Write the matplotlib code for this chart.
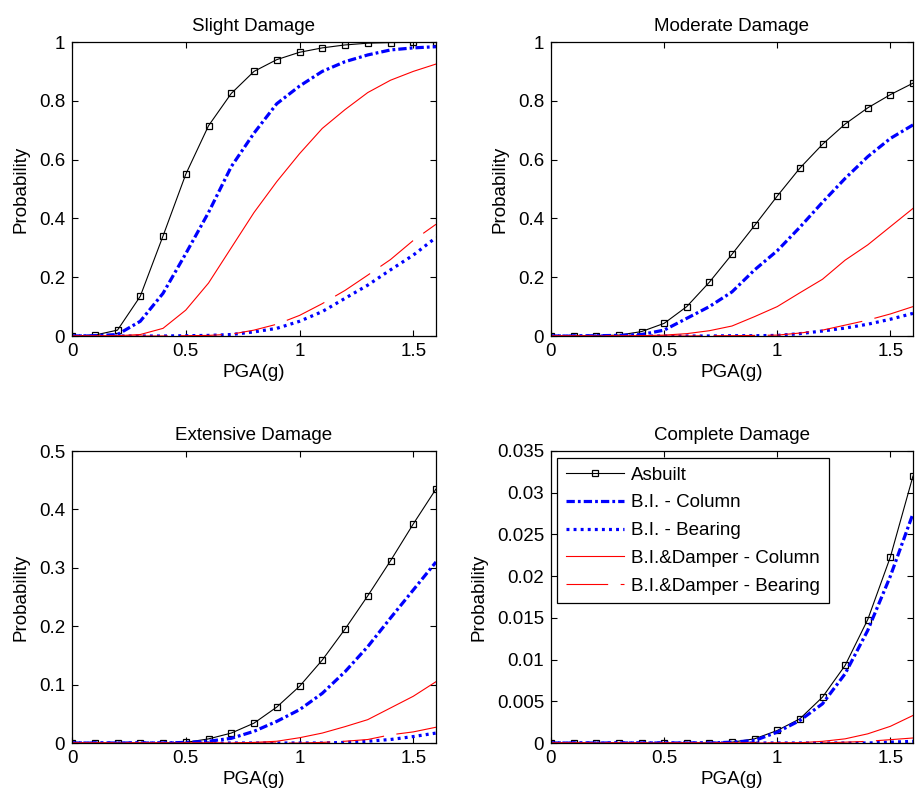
import matplotlib
matplotlib.use('Agg')
import matplotlib.pyplot as plt
import numpy as np
from matplotlib.ticker import FuncFormatter

plt.rcParams['font.family'] = ['Liberation Sans', 'DejaVu Sans']
plt.rcParams['lines.scale_dashes'] = False
fs = 13.5

pga = [0, 0.1, 0.2, 0.3, 0.4, 0.5, 0.6, 0.7, 0.8, 0.9, 1.0, 1.1, 1.2, 1.3, 1.4, 1.5, 1.6]

labels = ['Asbuilt', 'B.I. - Column', 'B.I. - Bearing',
          'B.I.&Damper - Column', 'B.I.&Damper - Bearing']

# Slight damage
slight_asbuilt  = [0, 0.003, 0.02, 0.135, 0.34, 0.55, 0.715, 0.825, 0.90, 0.94, 0.965, 0.98, 0.99, 0.996, 0.998, 0.999, 1.0]
slight_bi_col   = [0, 0.001, 0.005, 0.05, 0.145, 0.28, 0.42, 0.576, 0.69, 0.79, 0.85, 0.90, 0.933, 0.956, 0.973, 0.98, 0.984]
slight_bi_bear  = [0, 0, 0, 0, 0, 0.001, 0.002, 0.005, 0.014, 0.026, 0.05, 0.083, 0.128, 0.173, 0.225, 0.275, 0.335]
slight_dmp_col  = [0, 0, 0.001, 0.005, 0.026, 0.088, 0.18, 0.30, 0.42, 0.525, 0.62, 0.706, 0.77, 0.828, 0.87, 0.90, 0.925]
slight_dmp_bear = [0, 0, 0, 0, 0, 0.001, 0.002, 0.006, 0.02, 0.04, 0.07, 0.11, 0.155, 0.207, 0.26, 0.325, 0.38]

# Moderate damage
mod_asbuilt  = [0, 0, 0.001, 0.003, 0.015, 0.043, 0.10, 0.183, 0.278, 0.376, 0.476, 0.571, 0.652, 0.721, 0.776, 0.821, 0.86]
mod_bi_col   = [0, 0, 0.001, 0.002, 0.005, 0.02, 0.06, 0.10, 0.15, 0.225, 0.29, 0.37, 0.455, 0.536, 0.61, 0.672, 0.718]
mod_bi_bear  = [0, 0, 0, 0, 0, 0, 0, 0, 0.001, 0.001, 0.002, 0.008, 0.017, 0.027, 0.04, 0.057, 0.077]
mod_dmp_col  = [0, 0, 0, 0, 0.001, 0.003, 0.008, 0.018, 0.034, 0.066, 0.10, 0.147, 0.193, 0.258, 0.31, 0.372, 0.434]
mod_dmp_bear = [0, 0, 0, 0, 0, 0, 0, 0.001, 0.001, 0.002, 0.003, 0.01, 0.02, 0.037, 0.054, 0.075, 0.10]

# Extensive damage
ext_asbuilt  = [0, 0, 0, 0, 0, 0.001, 0.007, 0.017, 0.034, 0.0615, 0.097, 0.142, 0.195, 0.252, 0.312, 0.375, 0.435]
ext_bi_col   = [0, 0, 0, 0, 0, 0.001, 0.003, 0.008, 0.02, 0.037, 0.057, 0.085, 0.122, 0.165, 0.214, 0.262, 0.31]
ext_bi_bear  = [0, 0, 0, 0, 0, 0, 0, 0, 0, 0, 0, 0, 0.001, 0.003, 0.006, 0.011, 0.017]
ext_dmp_col  = [0, 0, 0, 0, 0, 0, 0, 0, 0.001, 0.003, 0.009, 0.017, 0.028, 0.04, 0.06, 0.08, 0.105]
ext_dmp_bear = [0, 0, 0, 0, 0, 0, 0, 0, 0, 0, 0, 0.001, 0.003, 0.006, 0.014, 0.019, 0.027]

# Complete damage
comp_asbuilt  = [0, 0, 0, 0, 0, 0, 0, 0, 0.0001, 0.0005, 0.0015, 0.0029, 0.0055, 0.0093, 0.0148, 0.0223, 0.032]
comp_bi_col   = [0, 0, 0, 0, 0, 0, 0, 0, 0.0001, 0.0003, 0.0013, 0.0027, 0.0047, 0.0083, 0.0135, 0.020, 0.0275]
comp_bi_bear  = [0, 0, 0, 0, 0, 0, 0, 0, 0, 0, 0, 0, 0, 0, 0, 0.0001, 0.0002]
comp_dmp_col  = [0, 0, 0, 0, 0, 0, 0, 0, 0, 0, 0, 0.00003, 0.0002, 0.0005, 0.0011, 0.002, 0.0033]
comp_dmp_bear = [0, 0, 0, 0, 0, 0, 0, 0, 0, 0, 0, 0, 0, 0.0001, 0.0002, 0.0004, 0.0006]

panels = [
    ('Slight Damage',    [slight_asbuilt, slight_bi_col, slight_bi_bear, slight_dmp_col, slight_dmp_bear], 1.0, 0.2),
    ('Moderate Damage',  [mod_asbuilt, mod_bi_col, mod_bi_bear, mod_dmp_col, mod_dmp_bear], 1.0, 0.2),
    ('Extensive Damage', [ext_asbuilt, ext_bi_col, ext_bi_bear, ext_dmp_col, ext_dmp_bear], 0.5, 0.1),
    ('Complete Damage',  [comp_asbuilt, comp_bi_col, comp_bi_bear, comp_dmp_col, comp_dmp_bear], 0.035, 0.005),
]

W, H = 915, 797
boxes = [(72, 42, 436, 336), (551, 42, 913, 336),
         (72, 451, 436, 743), (551, 451, 913, 743)]

fig = plt.figure(figsize=(W / 100, H / 100), dpi=100)

fmt = FuncFormatter(lambda v, p: '%g' % round(v, 6))

for k, (title, series, ymax, ystep) in enumerate(panels):
    x0, y0, x1, y1 = boxes[k]
    ax = fig.add_axes([x0 / W, 1 - y1 / H, (x1 - x0) / W, (y1 - y0) / H])
    ax.plot(pga, series[0], color='k', lw=0.8, marker='s', markersize=4.6,
            markerfacecolor='none', markeredgecolor='k', markeredgewidth=0.9, label=labels[0])
    ax.plot(pga, series[1], color='#0000ff', lw=2.3, dashes=(6, 2.2, 2, 2.2), label=labels[1])
    ax.plot(pga, series[2], color='#0000ff', lw=2.3, dashes=(2.1, 3.0), label=labels[2])
    ax.plot(pga, series[3], color='#ff0000', lw=0.8, label=labels[3])
    ax.plot(pga, series[4], color='#ff0000', lw=0.8, dashes=(30, 9), label=labels[4])

    ax.set_xlim(0, 1.6)
    ax.set_ylim(0, ymax)
    ax.set_xticks([0, 0.5, 1, 1.5])
    ax.set_yticks(np.arange(0, ymax + ystep / 2, ystep))
    ax.xaxis.set_major_formatter(fmt)
    ax.yaxis.set_major_formatter(fmt)
    ax.tick_params(direction='in', top=True, right=True, length=4, width=0.8,
                   labelsize=fs, pad=5, colors='k')
    for s in ax.spines.values():
        s.set_linewidth(0.9)
    ax.set_title(title, fontsize=fs, pad=8)
    ax.set_xlabel('PGA(g)', fontsize=fs, labelpad=3)
    ax.set_ylabel('Probability', fontsize=fs, labelpad=7)

    if k == 3:
        leg = ax.legend(loc='upper left', bbox_to_anchor=(0.017, 0.976), borderaxespad=0,
                        fontsize=fs, handlelength=3.1, handletextpad=0.4,
                        labelspacing=0.57, borderpad=0.45, fancybox=False,
                        framealpha=1, edgecolor='k')
        leg.get_frame().set_linewidth(0.9)
        leg.legend_handles[0].set_markevery([1])

plt.savefig('out.png', dpi=100)
